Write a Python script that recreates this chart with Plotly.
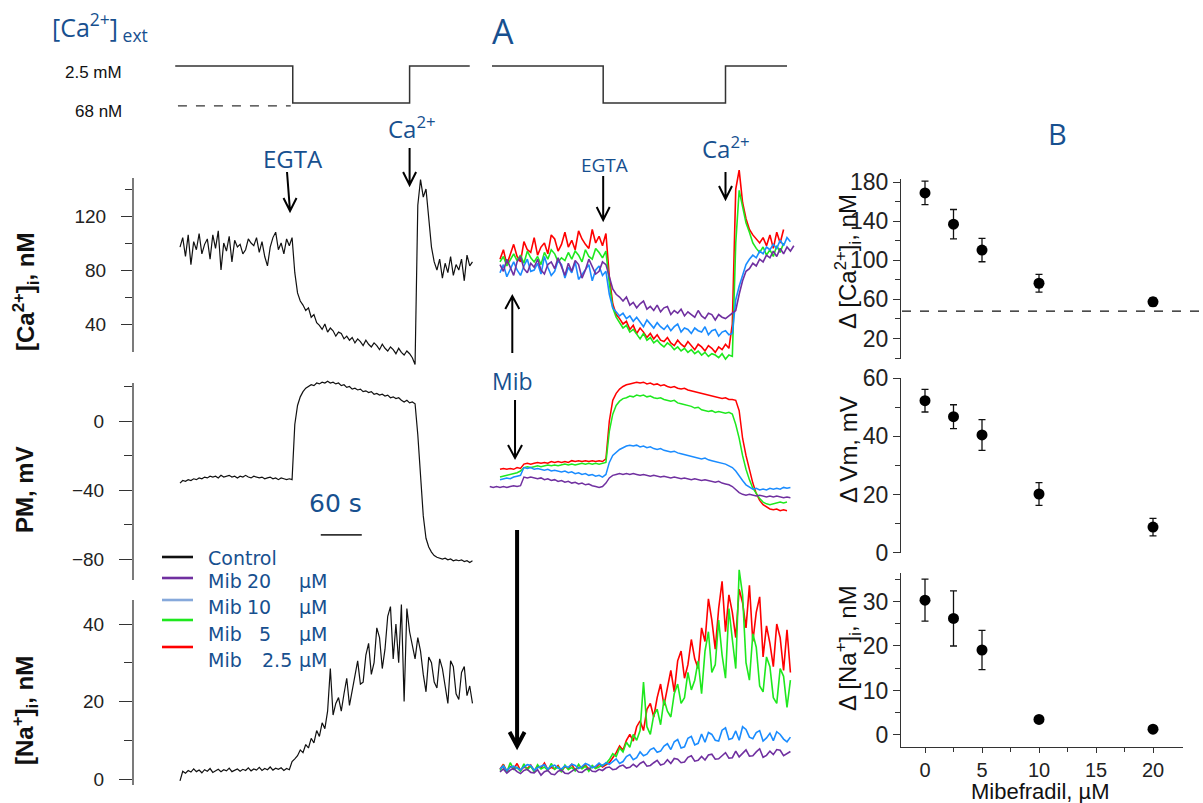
import plotly.graph_objects as go

W, H = 1203, 803
SEC_PER_PX = 60.0 / 41.0

def fx(px):
    return px / W

def fy(py):
    return 1.0 - py / H

# ---------------- data ----------------
LEFT_DT = 4.0      # s between samples (control traces)
MID_DT = 5.0       # s between samples (mibefradil traces)
LEFT_EGTA_T = 165.0
LEFT_CA_T = 336.0
MID_EGTA_T = 151.0
MID_CA_T = 330.0
MIB_T = 22.0
SCALE_BAR_T0 = 206.0
SCALE_BAR_LEN = 60.0
SCALE_BAR_PM = -66.0

stim_left_t = [-7.0, LEFT_EGTA_T, LEFT_CA_T, 424.0]
stim_left_level = [1, 0, 1, 1]
stim_left_base_t = [-3.0, 162.0]
stim_left_base_level = [-0.08, -0.08]
stim_mid_t = [-11.7, MID_EGTA_T, MID_CA_T, 420.0]
stim_mid_level = [1, 0, 1, 1]

# Control traces
left_ca = [97, 104, 90, 106, 84, 101, 95, 107, 92, 99,
           103, 88, 106, 96, 109, 80, 100, 94, 105, 86,
           102, 97, 99, 92, 95, 103, 100, 98, 104, 93,
           101, 90, 83, 97, 104, 108, 95, 100, 92, 103,
           98, 104, 78, 63, 57, 54, 50, 52, 45, 47,
           41, 39, 36, 40, 34, 37, 35, 31, 34, 33,
           29, 31, 28, 30, 26, 29, 27, 24, 28, 25,
           23, 26, 24, 21, 25, 22, 20, 23, 21, 18,
           22, 19, 17, 20, 18, 15, 10, 128, 147, 134,
           140, 118, 97, 86, 80, 88, 74, 85, 78, 90,
           76, 84, 80, 88, 72, 91, 83, 86]
left_pm = [-36, -34.5, -35, -34, -34.5, -33.5, -34, -33, -33.5, -32.5,
           -33, -32, -32.5, -32, -33, -31.5, -32.5, -32, -31.5, -32.5,
           -32, -33, -32, -32.5, -31.5, -32.5, -33, -32, -32.5, -33,
           -32.5, -33.5, -33, -32.5, -33.5, -33, -34, -33, -33.5, -34,
           -33.5, -34, -2, 9, 14, 17, 19, 20, 21, 20.5,
           22, 21.5, 22.5, 22, 23, 22, 22.5, 21.5, 22, 20.5,
           21, 19.5, 20, 18.5, 19, 18, 18.5, 17, 17.5, 16.5,
           17, 15.5, 16, 15, 15.5, 14.5, 15, 13.5, 14, 13,
           13.5, 12, 11, 12, 10.5, 11, 10, -8, -35, -55,
           -68, -73, -76, -78, -79, -79.5, -80, -79.5, -80.5, -80,
           -81, -80.5, -81, -80.5, -81.5, -81, -82, -81]
left_na = [-0.5, 2, 1.5, 2.2, 1.8, 2.6, 1.9, 2.3, 1.6, 2.4,
           2.0, 2.7, 1.7, 2.2, 2.5, 1.9, 2.4, 2.1, 2.8, 1.9,
           2.3, 2.6, 2.0, 2.5, 2.2, 2.9, 2.1, 2.6, 2.3, 3.0,
           2.2, 2.7, 2.4, 3.1, 2.3, 2.8, 2.5, 2.9, 2.2, 2.7,
           2.4, 4.5, 5.2, 6.0, 7.5, 6.8, 8.9, 8.0, 10.5, 9.3,
           12.5, 11.0, 14.5, 13.0, 17.5, 28.5, 16.5, 19.5, 21.0, 17.5,
           22.0, 26.0, 19.0, 23.0, 27.5, 30.5, 24.5, 25.0, 32.0, 35.0,
           27.0, 30.0, 39.0, 36.5, 28.5, 33.5, 42.0, 44.5, 31.0, 40.0,
           30.0, 45.0, 20.0, 44.0, 38.0, 34.0, 31.0, 36.5, 33.0, 27.0,
           22.5, 31.5, 30.0, 25.0, 23.5, 31.0, 28.5, 24.0, 19.5, 30.5,
           29.0, 22.0, 20.5, 27.5, 29.0, 21.5, 24.0, 19.5]

# Mibefradil traces: [Ca2+]i (nM)
mid_ca_red = [88, 95, 84, 92, 99, 90, 86, 101, 95, 93,
              104, 91, 97, 100, 92, 106, 103, 94, 99, 108,
              97, 102, 95, 109, 103, 99, 96, 110, 100, 105,
              98, 107, 75, 55, 47, 44, 40, 42, 36, 39,
              33, 37, 34, 30, 33, 29, 32, 28, 27, 30,
              26, 24, 28, 25, 23, 27, 24, 21, 25, 23,
              20, 24, 22, 19, 23, 21, 25, 22, 40, 140,
              154, 130, 118, 110, 106, 103, 100, 104, 98, 106,
              96, 108, 100, 110]
mid_ca_green = [86, 90, 83, 88, 92, 87, 91, 85, 94, 89,
                86, 90, 84, 93, 88, 95, 92, 86, 89, 87,
                93, 88, 94, 91, 86, 95, 90, 88, 96, 93,
                89, 94, 70, 52, 45, 41, 37, 39, 34, 36,
                32, 29, 33, 28, 30, 26, 28, 25, 23, 26,
                24, 21, 23, 20, 22, 19, 21, 18, 20, 17,
                19, 16, 18, 17, 15, 18, 14, 17, 16, 100,
                139, 128, 115, 108, 100, 96, 93, 97, 91, 95,
                90, 98, 93, 100]
mid_ca_blue = [78, 84, 75, 81, 86, 80, 76, 83, 88, 79,
               80, 85, 77, 90, 82, 76, 79, 87, 84, 74,
               82, 78, 86, 73, 77, 81, 84, 72, 80, 83,
               76, 79, 62, 52, 49, 46, 48, 44, 46, 42,
               45, 41, 38, 43, 40, 37, 41, 38, 36, 39,
               35, 38, 40, 34, 37, 36, 33, 37, 35, 34,
               38, 32, 35, 36, 31, 34, 35, 32, 33, 58,
               68, 76, 84, 88, 91, 89, 94, 92, 97, 95,
               99, 96, 102, 98, 104, 101]
mid_ca_purple = [84, 79, 88, 82, 76, 86, 90, 81, 78, 85,
                 82, 88, 80, 77, 84, 86, 81, 89, 83, 76,
                 85, 79, 87, 84, 74, 80, 88, 83, 77, 79,
                 86, 84, 75, 66, 62, 60, 57, 60, 54, 56,
                 52, 55, 57, 51, 53, 50, 54, 49, 52, 53,
                 47, 50, 48, 51, 46, 49, 47, 45, 50, 46,
                 44, 48, 47, 43, 47, 45, 44, 46, 48, 50,
                 62, 72, 79, 81, 85, 83, 88, 86, 91, 89,
                 94, 90, 96, 92, 97, 94, 98]

# Mibefradil traces: membrane potential (mV)
mid_pm_red = [-28, -27.5, -28, -27.5, -28, -27, -27.5, -25, -24.5, -25,
              -24.5, -24, -24.5, -24, -24.5, -23.5, -24, -23.5, -24, -23.5,
              -24, -23, -23.5, -23, -23.5, -23, -23.5, -23, -23.5, -23,
              -23.5, -22, 0, 12, 16, 18.5, 20, 21, 21.5, 22,
              22.5, 22, 22.5, 21.5, 22, 21, 21.5, 20.5, 21, 20,
              19.5, 20, 19, 18.5, 19, 18, 17.5, 17, 16.5, 16,
              15.5, 15, 14.5, 14, 13.5, 13, 13.5, 12.5, 12.5, 12,
              6, -10, -20, -29, -36, -42, -46, -48.5, -50, -51,
              -51.5, -51, -52, -51.5, -52]
mid_pm_green = [-32.5, -32, -31.5, -31, -30.5, -30, -29, -27, -26.5, -27,
                -26.5, -26, -26.5, -26, -25.5, -26, -25.5, -26, -25.5, -25,
                -25.5, -25, -25.5, -25, -24.5, -25, -24.5, -25, -24.5, -25,
                -24.5, -24, -6, 4, 9, 11.5, 13, 13.5, 14.5, 14,
                15, 14.5, 15, 14, 14.5, 13.5, 13, 13.5, 12.5, 12,
                11.5, 12, 10.5, 10, 9.5, 9, 8.5, 7.5, 8, 6.5,
                6, 5.5, 6, 5, 5.5, 5, 4.5, 5, 4, -2,
                -10, -20, -28, -34, -39, -42, -45, -47, -48, -48.5,
                -48, -47.5, -47, -47.5, -47]
mid_pm_blue = [-34, -33.5, -33, -33.5, -32.5, -32, -31.5, -27, -27.5, -27,
               -28, -27.5, -28, -28.5, -28, -29, -28.5, -29, -29.5, -29,
               -30, -29.5, -30.5, -30, -31, -30.5, -31.5, -31, -32, -31.5,
               -32.5, -31, -24, -20, -18, -16.5, -15.5, -14.5, -14, -14.5,
               -14, -15, -14.5, -15.5, -15, -16, -16.5, -16, -17, -17.5,
               -18, -17.5, -18.5, -19, -19.5, -20, -20.5, -21, -21.5, -22,
               -21.5, -22.5, -23, -23.5, -24, -24.5, -25, -26, -27, -29,
               -32, -34.5, -37, -38.5, -39.5, -39, -40, -39.5, -40, -39,
               -39.5, -39, -39.5, -38.5, -39, -38.5]
PURPLE_PM_T0 = -15.0
mid_pm_purple = [-38, -38.5, -38,
                 -38.5, -38, -38.5, -38, -37.5, -38, -37.5, -32.5, -33, -32.5,
                 -33, -33.5, -33, -34, -33.5, -34.5, -34, -35, -34.5, -35.5,
                 -35, -36, -35.5, -36.5, -36, -37, -36.5, -37.5, -38, -38.5,
                 -38, -36, -33, -31.5, -31, -30.5, -31, -30.5, -31, -30.5,
                 -31, -31.5, -31, -31.5, -32, -31.5, -32, -32.5, -32, -32.5,
                 -33, -32.5, -33, -33.5, -33, -33.5, -34, -33.5, -34, -34.5,
                 -34, -34.5, -35, -35.5, -35, -36, -36.5, -37, -38, -40,
                 -41.5, -42.5, -43, -42.5, -43, -43.5, -43, -43.5, -44, -43.5,
                 -44, -43.5, -44, -44.5, -44, -44.5]

# Mibefradil traces: [Na+]i (nM)
mid_na_red = [2.5, 3.8, 1.9, 3.2, 2.6, 4.0, 2.2, 3.1, 2.7, 3.6,
              2.1, 3.3, 2.8, 4.1, 2.4, 3.0, 2.6, 3.5, 2.0, 3.2,
              2.7, 3.8, 2.3, 3.0, 2.9, 3.6, 2.5, 3.3, 2.8, 3.9,
              3.1, 3.6, 4.2, 5.5, 6.8, 8.5, 7.4, 10.0, 11.5, 9.8,
              13.5, 15.0, 12.5, 18.0, 19.5, 16.0, 21.0, 24.5, 19.0, 23.5,
              28.0, 22.5, 30.5, 33.0, 26.0, 29.5, 36.0, 31.0, 28.5, 39.0,
              35.5, 46.5, 41.0, 33.5, 44.0, 51.0, 38.0, 47.5, 43.0, 36.5,
              49.0, 45.5, 39.0, 50.0, 35.5, 43.0, 47.0, 31.5, 39.5, 35.0,
              29.0, 40.0, 36.5, 28.0, 38.5, 27.5]
mid_na_green = [2.2, 3.5, 1.8, 4.2, 2.5, 3.0, 2.0, 3.9, 2.4, 3.3,
                1.9, 3.7, 2.6, 3.1, 2.2, 4.0, 2.5, 3.2, 1.8, 3.6,
                2.4, 3.0, 2.1, 3.8, 2.6, 3.3, 2.0, 3.5, 2.7, 3.1,
                3.4, 4.0, 5.0, 6.5, 5.8, 8.0, 7.0, 9.5, 8.2, 11.5,
                10.0, 12.5, 25.0, 13.5, 11.5, 16.5, 18.0, 14.0, 20.5, 17.5,
                16.0, 22.0, 24.5, 19.5, 21.0, 27.5, 23.0, 25.5, 30.5, 22.0,
                33.0, 38.0, 27.5, 29.5, 41.0, 32.0, 26.0, 44.0, 36.0, 28.5,
                54.0, 47.5, 30.0, 25.5, 37.5, 34.0, 24.0, 22.5, 31.5, 29.0,
                21.0, 19.5, 28.5, 26.5, 18.5, 25.5]
mid_na_blue = [2.6, 3.4, 2.2, 3.0, 3.3, 2.8, 2.4, 3.1, 3.7, 3.5,
               2.3, 2.9, 3.2, 3.7, 2.5, 3.3, 3.6, 2.8, 2.6, 3.4,
               3.0, 3.8, 3.5, 2.7, 3.2, 4.0, 3.6, 2.9, 3.3, 4.1,
               3.4, 4.2, 3.8, 4.6, 5.2, 4.0, 4.5, 5.8, 6.3, 5.0,
               5.5, 7.0, 6.0, 6.4, 7.6, 8.0, 6.9, 7.2, 8.5, 9.1,
               7.6, 9.6, 10.2, 8.0, 8.3, 10.5, 11.0, 8.8, 9.2, 11.6,
               9.5, 12.0, 11.5, 10.0, 9.8, 12.6, 13.2, 10.2, 10.5, 12.4,
               10.0, 13.5, 12.8, 10.8, 10.4, 12.0, 12.5, 9.8, 10.6, 11.8,
               9.9, 12.2, 11.5, 10.3, 9.6, 10.8]
mid_na_purple = [1.8, 2.6, 1.5, 2.3, 2.7, 1.9, 1.4, 2.2, 2.5, 1.7,
                 1.6, 2.4, 1.0, 1.9, 2.2, 1.3, 1.1, 2.0, 2.3, 1.5,
                 1.4, 2.1, 2.6, 1.8, 1.7, 2.4, 2.8, 2.0, 1.9, 2.5,
                 2.2, 2.9, 3.1, 2.4, 2.6, 3.3, 3.6, 2.8, 3.0, 3.8,
                 3.1, 4.0, 4.5, 3.3, 3.5, 4.2, 4.8, 3.6, 3.9, 5.0,
                 4.0, 5.3, 5.1, 4.2, 4.4, 5.6, 6.0, 4.6, 4.8, 5.8,
                 4.9, 6.2, 6.4, 5.1, 5.2, 6.0, 6.8, 5.4, 5.5, 7.2,
                 5.7, 6.6, 7.5, 5.9, 6.0, 7.0, 7.8, 5.6, 6.1, 7.2,
                 6.3, 7.6, 7.4, 6.0, 6.5, 7.1]

# Panel B: dose-response
mib_conc = [0, 2.5, 5, 10, 20]
d_ca = [169, 137, 110.5, 76.5, 57.5]
d_ca_err = [12, 15, 12, 9, 4]
d_vm = [52.3, 46.8, 40.5, 20.2, 8.8]
d_vm_err = [3.9, 4.1, 5.3, 3.9, 3.0]
d_na = [30.3, 26.2, 19.1, 3.5, 1.3]
d_na_err = [4.7, 6.2, 4.4, 0.4, 0.3]
CA_BASELINE = 48

legend_names = ["Control", "Mib", "Mib", "Mib", "Mib"]
legend_conc = ["", "20", "10", "5", "2.5"]
legend_unit = ["", "µM", "µM", "µM", "µM"]

RED = "#ff0000"
GREEN = "#1ee81e"
BLUE = "#1a8cff"
PURPLE = "#7030a0"
TXT_BLUE = "#17508f"
legend_colors = ["#111111", PURPLE, "#86a9db", GREEN, RED]

# ---------------- pixel <-> value helpers (layout only) ----------------
def ca_val(py): return 120 - (py - 216) / 1.35
def pm_val(py): return -(py - 421) * 40 / 69
def na_val(py): return (779 - py) * 20 / 77.5
def t_left(px): return (px - 180) * SEC_PER_PX
def t_mid(px): return (px - 500) * SEC_PER_PX
def conc_val(px): return (px - 925) / 11.4

def times(n, dt, t0=0.0):
    return [t0 + i * dt for i in range(n)]

fig = go.Figure()

def line_trace(x, y, xa, ya, color, width, dash=None, shape="linear"):
    fig.add_trace(go.Scatter(x=x, y=y, xaxis=xa, yaxis=ya, mode="lines",
                             line=dict(color=color, width=width, dash=dash, shape=shape),
                             hoverinfo="skip", showlegend=False))

# stimulus protocol
line_trace(stim_left_t, stim_left_level, "x", "y4", "#333333", 1.5, shape="hv")
line_trace(stim_left_base_t, stim_left_base_level, "x", "y4", "#333333", 1.2, dash="dash")
line_trace(stim_mid_t, stim_mid_level, "x2", "y8", "#333333", 1.5, shape="hv")

# control traces
line_trace(times(len(left_ca), LEFT_DT), left_ca, "x", "y", "#111111", 1.2)
line_trace(times(len(left_pm), LEFT_DT), left_pm, "x", "y2", "#111111", 1.2)
line_trace(times(len(left_na), LEFT_DT), left_na, "x", "y3", "#111111", 1.2)

# mibefradil traces
for arr, col in [(mid_ca_red, RED), (mid_ca_green, GREEN), (mid_ca_blue, BLUE), (mid_ca_purple, PURPLE)]:
    line_trace(times(len(arr), MID_DT), arr, "x2", "y5", col, 1.6)
for arr, col, t0 in [(mid_pm_red, RED, 0.0), (mid_pm_green, GREEN, 0.0), (mid_pm_blue, BLUE, 0.0),
                     (mid_pm_purple, PURPLE, PURPLE_PM_T0)]:
    line_trace(times(len(arr), MID_DT, t0), arr, "x2", "y6", col, 1.5)
for arr, col in [(mid_na_red, RED), (mid_na_green, GREEN), (mid_na_blue, BLUE), (mid_na_purple, PURPLE)]:
    line_trace(times(len(arr), MID_DT), arr, "x2", "y7", col, 1.6)

# panel B
for vals, errs, ya in [(d_ca, d_ca_err, "y9"), (d_vm, d_vm_err, "y10"), (d_na, d_na_err, "y11")]:
    fig.add_trace(go.Scatter(x=mib_conc, y=vals, xaxis="x3", yaxis=ya, mode="markers",
                             marker=dict(color="black", size=11),
                             error_y=dict(type="data", array=errs, color="#111111", thickness=1.3, width=3.5),
                             hoverinfo="skip", showlegend=False, cliponaxis=False))

# ---------------- axes ----------------
TICKFONT = "Liberation Sans, Arial, sans-serif"

def tick_axis(domain, rng, anchor, major, minor, tl, mtl, fsize, standoff=0, showline=False):
    return dict(domain=domain, range=rng, anchor=anchor, showgrid=False, zeroline=False,
                automargin=False,
                tickmode="array", tickvals=major, ticks="outside", ticklen=tl,
                tickwidth=1.3, tickcolor="#333333",
                minor=dict(tickmode="array", tickvals=minor, ticks="outside", ticklen=mtl,
                           tickwidth=1.3, tickcolor="#333333", showgrid=False),
                tickfont=dict(family=TICKFONT, size=fsize, color="#222222"),
                ticklabelstandoff=standoff,
                showline=showline, linecolor="#333333", linewidth=1.3, fixedrange=True)

def hidden_axis(domain, rng, anchor):
    return dict(domain=domain, range=rng, anchor=anchor, visible=False, showgrid=False,
                zeroline=False, automargin=False, fixedrange=True)

layout_axes = dict(
    xaxis=hidden_axis([fx(133), fx(478)], [t_left(133), t_left(478)], "y"),
    yaxis=tick_axis([fy(367), fy(178)], [ca_val(367), ca_val(178)], "x",
                    [40, 80, 120], [60, 100, 140], 11, 7, 19, 11),
    yaxis2=tick_axis([fy(582), fy(378)], [pm_val(582), pm_val(378)], "x",
                     [-80, -40, 0], [-60, -20, 20], 13, 8, 19, 11),
    yaxis3=tick_axis([fy(787), fy(598)], [na_val(787), na_val(598)], "x",
                     [0, 20, 40], [10, 30], 13, 8, 19, 11),
    yaxis4=hidden_axis([fy(112), fy(60)], [-0.243, 1.162], "x"),
    xaxis2=hidden_axis([fx(485), fx(800)], [t_mid(485), t_mid(800)], "y5"),
    yaxis5=hidden_axis([fy(372), fy(160)], [ca_val(372), ca_val(160)], "x2"),
    yaxis6=hidden_axis([fy(528), fy(372)], [pm_val(528), pm_val(372)], "x2"),
    yaxis7=hidden_axis([fy(790), fy(560)], [na_val(790), na_val(560)], "x2"),
    yaxis8=hidden_axis([fy(112), fy(60)], [-0.243, 1.162], "x2"),
    xaxis3=tick_axis([fx(901), fx(1183)], [conc_val(901), conc_val(1183)], "y11",
                     [0, 5, 10, 15, 20], [2.5, 7.5, 12.5, 17.5], 5, 4, 20, 0, True),
    yaxis9=tick_axis([fy(358.5), fy(179.2)], [-0.5, 183], "x3",
                     [20, 60, 100, 140, 180], [0, 40, 80, 120, 160], 7, 5, 23, 0, True),
    yaxis10=tick_axis([fy(552.7), fy(378.3)], [0, 60], "x3",
                      [0, 20, 40, 60], [10, 30, 50], 7, 5, 23, 0, True),
    yaxis11=tick_axis([fy(746.7), fy(573.3)], [-2.63, 36.33], "x3",
                      [0, 10, 20, 30], [5, 15, 25, 35], 7, 5, 23, 0, True),
)

# ---------------- shapes ----------------
shapes = []
for top, bot in [(178, 352), (383, 580), (600, 785)]:
    shapes.append(dict(type="line", xref="paper", yref="paper", x0=fx(133), x1=fx(133),
                       y0=fy(bot), y1=fy(top), line=dict(color="#333333", width=1.3)))

# baseline dashed line in panel B
shapes.append(dict(type="line", xref="paper", yref="y9", x0=fx(902), x1=1.0,
                   y0=CA_BASELINE, y1=CA_BASELINE, line=dict(color="#111111", width=1.3, dash="dash")))

# 60 s scale bar
shapes.append(dict(type="line", xref="x", yref="y2", x0=SCALE_BAR_T0, x1=SCALE_BAR_T0 + SCALE_BAR_LEN,
                   y0=SCALE_BAR_PM, y1=SCALE_BAR_PM, line=dict(color="#333333", width=1.6)))

def arrow(xref, t_top, t_tip, y_top_px, y_tip_px, width=2.0, hw_px=6.5, hl_px=13):
    d = 1 if y_tip_px > y_top_px else -1
    yb = y_tip_px - d * hl_px
    hw = hw_px * SEC_PER_PX
    path = (f"M {t_top},{fy(y_top_px)} L {t_tip},{fy(y_tip_px)} "
            f"M {t_tip - hw},{fy(yb)} L {t_tip},{fy(y_tip_px)} L {t_tip + hw},{fy(yb)}")
    shapes.append(dict(type="path", xref=xref, yref="paper", path=path,
                       line=dict(color="#000000", width=width)))

arrow("x", LEFT_EGTA_T - 8.4, LEFT_EGTA_T - 4.0, 172, 211)
arrow("x", LEFT_CA_T, LEFT_CA_T, 148, 185)
arrow("x2", MID_EGTA_T, MID_EGTA_T, 176, 220)
arrow("x2", MID_CA_T, MID_CA_T, 172, 199)
arrow("x2", MIB_T - 4, MIB_T - 4, 353, 296, hw_px=7)
arrow("x2", MIB_T, MIB_T, 400, 458, hw_px=7)
arrow("x2", MIB_T + 3, MIB_T + 3, 530, 746, width=4, hw_px=7.5, hl_px=14)

# legend lines
legend_line_y = [557, 578, 600, 620, 647]
legend_text_y = [558, 581, 607, 634, 660]
for yl, col in zip(legend_line_y, legend_colors):
    shapes.append(dict(type="line", xref="paper", yref="paper", x0=fx(162), x1=fx(193),
                       y0=fy(yl), y1=fy(yl), line=dict(color=col, width=2.6)))

# ---------------- annotations ----------------
BLUEFONT = "Open Sans, Noto Sans, sans-serif"
VERD = "DejaVu Sans, Verdana, sans-serif"
anns = []

def ann(text, x, y, size, color, family, xref="paper", yref="paper", xanchor="center",
        yanchor="middle", angle=0):
    anns.append(dict(text=text, x=x, y=y, xref=xref, yref=yref, xanchor=xanchor, yanchor=yanchor,
                     showarrow=False, textangle=angle,
                     font=dict(size=size, color=color, family=family)))

ann("[Ca<sup>2+</sup>]<sub> ext</sub>", fx(50), fy(27), 25, TXT_BLUE, BLUEFONT, xanchor="left")
ann("2.5 mM", fx(124), fy(72), 17, "#111111", TICKFONT, xanchor="right")
ann("68 nM", fx(124), fy(111), 17, "#111111", TICKFONT, xanchor="right")
ann("A", fx(503), fy(31), 34, TXT_BLUE, BLUEFONT)
ann("B", fx(1057), fy(133), 29, TXT_BLUE, BLUEFONT)
ann("EGTA", LEFT_EGTA_T, fy(158), 24, TXT_BLUE, BLUEFONT, xref="x")
ann("Ca<sup>2+</sup>", LEFT_CA_T + 3, fy(128), 24, TXT_BLUE, BLUEFONT, xref="x")
ann("EGTA", MID_EGTA_T + 2, fy(165), 19, TXT_BLUE, BLUEFONT, xref="x2")
ann("Ca<sup>2+</sup>", MID_CA_T, fy(148), 24, TXT_BLUE, BLUEFONT, xref="x2")
ann("Mib", MIB_T - 4, fy(381), 23, TXT_BLUE, BLUEFONT, xref="x2")
ann("60 s", SCALE_BAR_T0 + SCALE_BAR_LEN / 2 - 8, fy(504), 25, TXT_BLUE, VERD, xref="x")

ann("<b>[Ca<sup>2+</sup>]<sub>i</sub>, nM</b>", fx(26), fy(292), 24, "#111111", TICKFONT, angle=-90)
ann("<b>PM, mV</b>", fx(24), fy(490), 24, "#111111", TICKFONT, angle=-90)
ann("<b>[Na<sup>+</sup>]<sub>i</sub>, nM</b>", fx(25), fy(711), 24, "#111111", TICKFONT, angle=-90)

ann("Δ [Ca<sup>2+</sup>]<sub>i</sub>, nM", fx(848), fy(262), 24, "#111111", TICKFONT, angle=-90)
ann("Δ Vm, mV", fx(848), fy(450), 24, "#111111", TICKFONT, angle=-90)
ann("Δ [Na<sup>+</sup>]<sub>i</sub>, nM", fx(848), fy(648), 24, "#111111", TICKFONT, angle=-90)
ann("Mibefradil, µM", fx(1040), fy(791), 22, "#111111", TICKFONT)

legend_conc_right = [None, 273, 273, 273, 294]
for name, conc, unit, ty, cx in zip(legend_names, legend_conc, legend_unit, legend_text_y, legend_conc_right):
    ann(name, fx(206), fy(ty), 19, TXT_BLUE, VERD, xanchor="left")
    if conc:
        ann(conc, fx(cx), fy(ty), 19, TXT_BLUE, VERD, xanchor="right")
        ann(unit, fx(297), fy(ty), 19, TXT_BLUE, VERD, xanchor="left")

fig.update_layout(
    width=W, height=H, margin=dict(l=0, r=0, t=0, b=0, pad=0, autoexpand=False),
    paper_bgcolor="white", plot_bgcolor="rgba(0,0,0,0)",
    showlegend=False, shapes=shapes, annotations=anns,
    **layout_axes,
)

fig.write_html("out.html", config={"displayModeBar": False},
               post_script="document.body.style.margin='0';")
